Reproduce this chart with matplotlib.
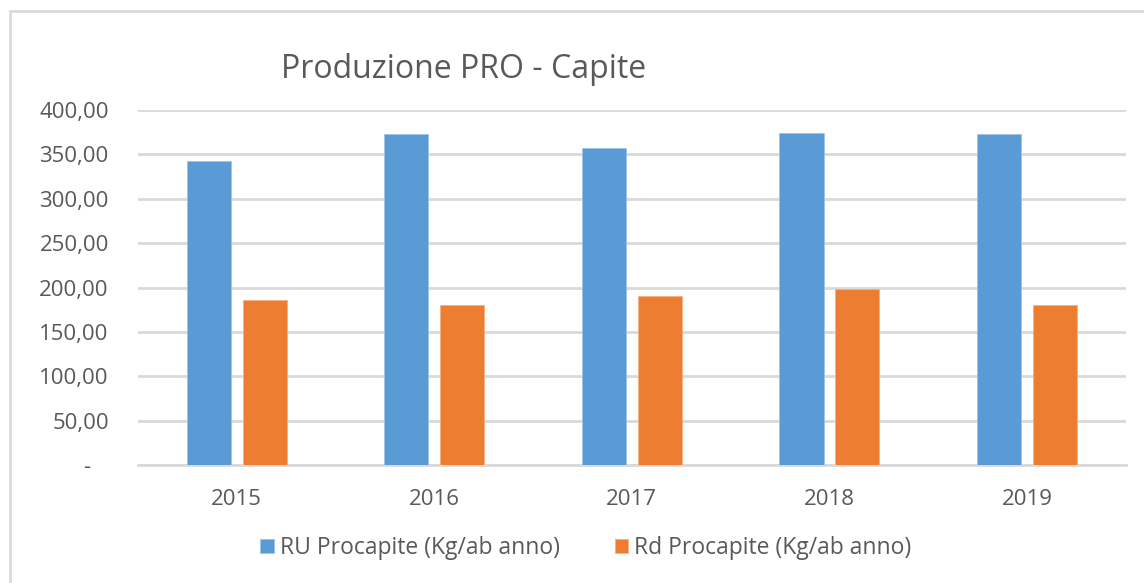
import matplotlib
matplotlib.use("Agg")
import matplotlib.pyplot as plt
import matplotlib.ticker as ticker
from matplotlib.patches import Rectangle
import numpy as np

# dati
anni = ["2015", "2016", "2017", "2018", "2019"]
ru_procapite = [342.3, 373.2, 357.0, 374.4, 373.2]
rd_procapite = [186.2, 180.6, 190.7, 197.9, 180.6]
serie_label = ["RU Procapite (Kg/ab anno)", "Rd Procapite (Kg/ab anno)"]
titolo = "Produzione PRO - Capite"

blu = "#5B9BD5"
arancio = "#ED7D31"
grigio = "#595959"
griglia = "#D9D9D9"

plt.rcParams["font.family"] = ["Open Sans", "DejaVu Sans"]

fig = plt.figure(figsize=(11.44, 5.83), dpi=100)
ax = fig.add_axes([0.1206, 0.2024, 0.8634, 0.6089])

x = np.arange(len(anni))
w = 0.223
off = 0.141
ax.bar(x - off, ru_procapite, w, color=blu, edgecolor="#9DC3E6", linewidth=0.6,
       label=serie_label[0], zorder=3)
ax.bar(x + off, rd_procapite, w, color=arancio, edgecolor="#F4B183", linewidth=0.6,
       label=serie_label[1], zorder=3)

ax.set_xlim(-0.5, len(anni) - 0.5)
ax.set_ylim(0, 400)
ax.set_yticks(np.arange(0, 401, 50))


def fmt(v, pos):
    if v == 0:
        return "-   "
    return f"{v:.2f}".replace(".", ",")


ax.yaxis.set_major_formatter(ticker.FuncFormatter(fmt))
ax.set_xticks(x)
ax.set_xticklabels(anni)
ax.tick_params(axis="both", length=0, labelsize=16, labelcolor=grigio)
ax.tick_params(axis="y", pad=21)
ax.tick_params(axis="x", pad=17)

ax.grid(axis="y", color=griglia, linewidth=2, zorder=0)
for s in ["left", "right", "top"]:
    ax.spines[s].set_visible(False)
ax.spines["bottom"].set_color(griglia)
ax.spines["bottom"].set_linewidth(2)

fig.text(0.2456, 0.8667, titolo, fontsize=23, color=grigio, ha="left", va="baseline")

fig.legend(loc="center", bbox_to_anchor=(0.512, 0.06), ncol=2, frameon=False,
           fontsize=16.5, labelcolor=grigio, handlelength=0.6, handleheight=0.6,
           handletextpad=0.25, columnspacing=2.4)

# cornice del grafico
fig.patches.append(Rectangle((10 / 1144, -0.05), 1.1, 1.05 - 11 / 583,
                             transform=fig.transFigure, fill=False,
                             edgecolor=griglia, linewidth=2, zorder=0))

plt.savefig("out.png", dpi=100)
